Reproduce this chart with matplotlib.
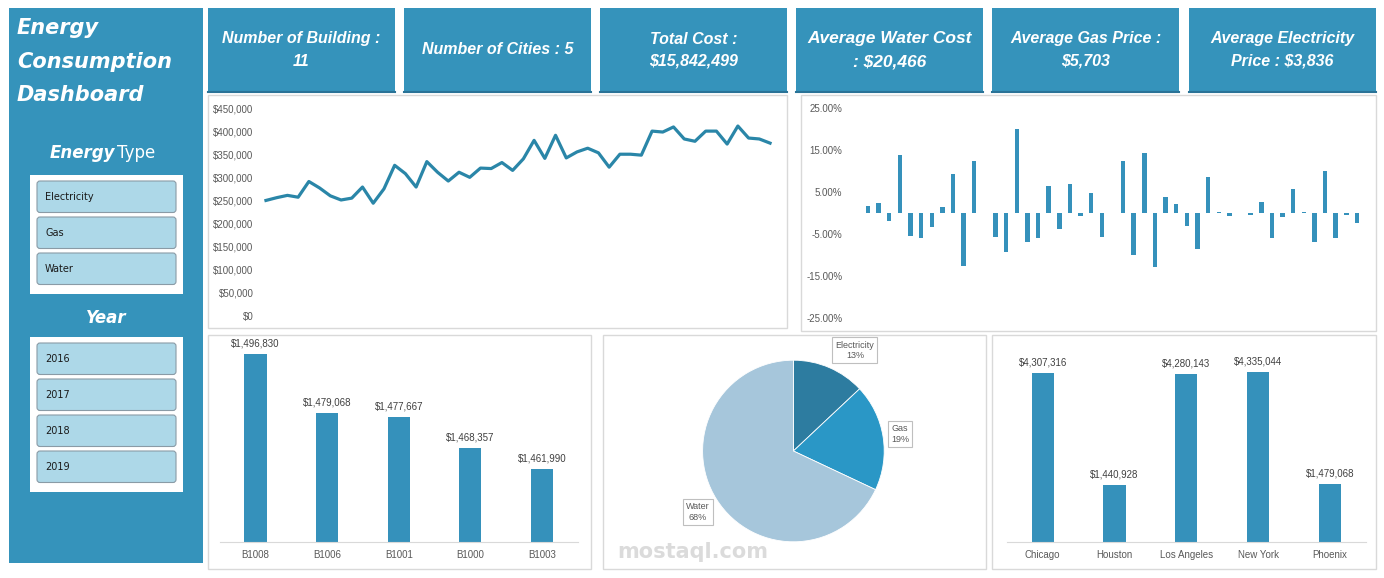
import matplotlib
matplotlib.use("Agg")
import matplotlib.pyplot as plt
import numpy as np
from matplotlib.patches import Rectangle, FancyBboxPatch
from matplotlib.ticker import FuncFormatter

# ---- data ----
kpi_lines = [["Number of Building :", "11"],
             ["Number of Cities : 5"],
             ["Total Cost :", "$15,842,499"],
             ["Average Water Cost", ": $20,466"],
             ["Average Gas Price :", "$5,703"],
             ["Average Electricity", "Price : $3,836"]]

energy_types = ["Electricity", "Gas", "Water"]
years = ["2016", "2017", "2018", "2019"]

# monthly cost 2016-2019
monthly_cost = [250, 256, 261, 257, 291, 277, 260, 251, 255, 279, 244, 275,
                326, 308, 279, 334, 311, 292, 311, 300, 320, 319, 332, 315,
                340, 380, 341, 391, 342, 355, 363, 353, 322, 350, 350, 348,
                400, 398, 409, 383, 378, 400, 400, 372, 411, 385, 383, 374]
monthly_cost = np.array(monthly_cost) * 1000

# month over month change (%), january has none
nan = np.nan
monthly_change = [nan, 1.7, 2.5, -2.0, 13.7, -5.5, -6.0, -3.4, 1.5, 9.4, -12.5, 12.5,
                  nan, -5.8, -9.4, 19.9, -6.8, -6.0, 6.5, -3.9, 7.0, -0.8, 4.8, -5.8,
                  nan, 12.3, -10.1, 14.2, -12.8, 3.7, 2.2, -3.0, -8.5, 8.5, 0.2, -0.8,
                  nan, -0.5, 2.7, -6.0, -1.0, 5.8, 0.2, -7.0, 10.1, -6.0, -0.4, -2.3]

buildings = ["B1008", "B1006", "B1001", "B1000", "B1003"]
building_cost = [1496830, 1479068, 1477667, 1468357, 1461990]

pie_labels = ["Electricity", "Gas", "Water"]
pie_share = [13, 19, 68]

cities = ["Chicago", "Houston", "Los Angeles", "New York", "Phoenix"]
city_cost = [4307316, 1440928, 4280143, 4335044, 1479068]

# ---- style ----
BLUE = "#3593BB"
BAR = "#3591BB"
LINE = "#2A86A8"
GRAY = "#595959"
BORDER = "#D9D9D9"
W, H = 1384, 578
LAB = "Liberation Sans"
KPI_FONT = ["Liberation Sans Narrow", "Liberation Sans"]

fig = plt.figure(figsize=(W / 100, H / 100), dpi=100)
fig.patch.set_facecolor("white")

bg = fig.add_axes([0, 0, 1, 1], zorder=0)
bg.set_xlim(0, W)
bg.set_ylim(H, 0)
bg.axis("off")


def px_axes(x0, y0, x1, y1):
    a = fig.add_axes([x0 / W, 1 - y1 / H, (x1 - x0) / W, (y1 - y0) / H], zorder=2)
    a.patch.set_alpha(0)
    for s in a.spines.values():
        s.set_visible(False)
    return a


# sidebar
bg.add_patch(Rectangle((9, 8), 194, 555, fc=BLUE, ec="none"))
for i, t in enumerate(["Energy", "Consumption", "Dashboard"]):
    bg.text(17, 28 + i * 33.5, t, color="white", fontsize=15, fontweight="bold",
            fontstyle="italic", va="center", ha="left")
bg.text(115, 153, "Energy", color="white", fontsize=12, fontweight="bold",
        fontstyle="italic", ha="right", va="center")
bg.text(117, 153, "Type", color="white", fontsize=12, ha="left", va="center")
bg.text(106, 318, "Year", color="white", fontsize=12, fontweight="bold",
        fontstyle="italic", ha="center", va="center")


def slicer(top, items):
    bot = top + 6 + 36 * len(items) + 5
    bg.add_patch(Rectangle((30, top), 153, bot - top, fc="white", ec="none"))
    for j, item in enumerate(items):
        y = top + 6 + j * 36
        bg.add_patch(FancyBboxPatch((37, y), 139, 31.5, boxstyle="round,pad=0,rounding_size=3",
                                    fc="#ADD8E8", ec="#8A9BA6", lw=0.8))
        bg.text(45, y + 16.5, item, fontsize=7, color="#1A1A1A", va="center", ha="left")


slicer(175, energy_types)
slicer(337, years)

# KPI cards
card_x = [208, 404, 600, 796, 992, 1189]
for i, (x, lines) in enumerate(zip(card_x, kpi_lines)):
    bg.add_patch(Rectangle((x, 8), 187, 84, fc=BLUE, ec="none"))
    bg.plot([x, x + 187], [91.5, 91.5], color="#2A7397", lw=1.5)
    fs = 12.5 if i == 3 else 11.5
    if len(lines) == 1:
        ys = [50]
    else:
        ys = [39, 61] if i != 3 else [38, 62]
    for y, t in zip(ys, lines):
        bg.text(x + 93.5, y, t, color="white", fontsize=fs, fontweight="bold",
                fontstyle="italic", family=KPI_FONT, ha="center", va="center")

# chart panels
for (x0, y0, x1, y1) in [(208, 95, 787, 328), (801, 95, 1376, 331),
                         (208, 335, 591, 569), (603, 335, 986, 569), (992, 335, 1376, 569)]:
    bg.add_patch(Rectangle((x0, y0), x1 - x0, y1 - y0, fc="white", ec=BORDER, lw=1))

# ---- line chart ----
ax1 = px_axes(260.6, 108, 775.4, 316)
ax1.plot(np.arange(len(monthly_cost)), monthly_cost, color=LINE, lw=2.3,
         solid_joinstyle="round")
ax1.set_xlim(-0.5, len(monthly_cost) - 0.5)
ax1.set_ylim(0, 450000)
ax1.set_yticks(np.arange(0, 450001, 50000))
ax1.yaxis.set_major_formatter(FuncFormatter(lambda v, p: f"${v:,.0f}"))
ax1.set_xticks([])
ax1.tick_params(axis="y", length=0, pad=5, labelsize=7, labelcolor=GRAY)
for lb in ax1.get_yticklabels():
    lb.set_family(LAB)

# ---- monthly change bars ----
ax2 = px_axes(852, 108, 1362.3, 318)
ax2.bar(np.arange(len(monthly_change)), monthly_change, width=0.42, color=BAR)
ax2.set_xlim(-0.5, len(monthly_change) - 0.5)
ax2.set_ylim(-25, 25)
ax2.set_yticks([-25, -15, -5, 5, 15, 25])
ax2.yaxis.set_major_formatter(FuncFormatter(lambda v, p: f"{v:.2f}%"))
ax2.set_xticks([])
ax2.tick_params(axis="y", length=0, pad=7, labelsize=7, labelcolor=GRAY)
for lb in ax2.get_yticklabels():
    lb.set_family(LAB)


# ---- bar charts ----
def bar_chart(rect, cats, vals, ymin, ymax):
    a = px_axes(*rect)
    bars = a.bar(np.arange(len(cats)), vals, width=0.31, color=BAR)
    a.set_xlim(-0.5, len(cats) - 0.5)
    a.set_ylim(ymin, ymax)
    a.set_yticks([])
    a.set_xticks(np.arange(len(cats)))
    a.set_xticklabels(cats, family=LAB, fontsize=7, color=GRAY)
    a.tick_params(axis="x", length=0, pad=6)
    a.spines["bottom"].set_visible(True)
    a.spines["bottom"].set_color(BORDER)
    for b, v in zip(bars, vals):
        a.annotate(f"${v:,.0f}", (b.get_x() + b.get_width() / 2, v), xytext=(0, 4),
                   textcoords="offset points", ha="center", va="bottom",
                   fontsize=7, family=LAB, color="#404040")
    return a


bar_chart((219.7, 343.5, 577.8, 542), buildings, building_cost, 1440000, 1500000)
bar_chart((1006.8, 345.5, 1365.8, 542), cities, city_cost, 0, 5000000)

# ---- pie ----
R = 90.8
S = 2 * R * 1.45
cx, cy = 793.4, 451
ax5 = px_axes(cx - S / 2, cy - S / 2, cx + S / 2, cy + S / 2)
pie_colors = ["#2D7CA0", "#2A97C6", "#A6C6DB"]
wedges, _ = ax5.pie(pie_share, colors=pie_colors, startangle=90, counterclock=False,
                    wedgeprops=dict(edgecolor="white", linewidth=0.6))
ax5.set_xlim(-1.45, 1.45)
ax5.set_ylim(-1.45, 1.45)
ax5.set_aspect("equal")
label_dist = [1.3, 1.19, 1.25]
angle_tweak = [-8, 0, 0]
for w, lab, share, d, tw in zip(wedges, pie_labels, pie_share, label_dist, angle_tweak):
    ang = np.deg2rad((w.theta1 + w.theta2) / 2 + tw)
    ax5.text(d * np.cos(ang), d * np.sin(ang), f"{lab}\n{share}%", ha="center", va="center",
             fontsize=6.5, family=LAB, color=GRAY, linespacing=1.2,
             bbox=dict(boxstyle="square,pad=0.35", fc="white", ec="#BFBFBF", lw=0.8))

# watermark
fig.text(693 / W, 1 - 552 / H, "mostaql.com", fontsize=15, fontweight="bold",
         color="#CFCFCF", alpha=0.75, ha="center", va="center", zorder=5)

fig.savefig("out.png", dpi=100)
